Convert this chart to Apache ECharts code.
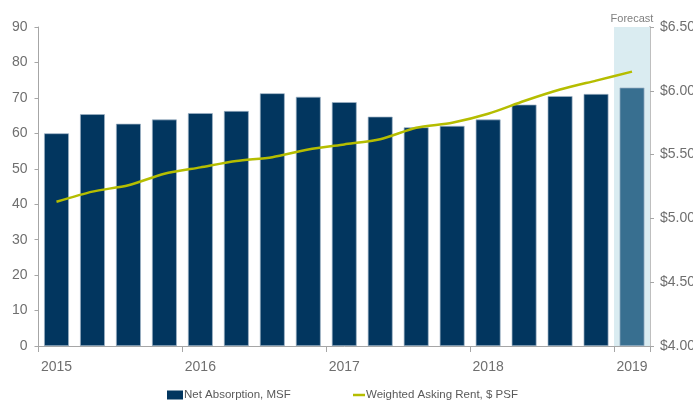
<!DOCTYPE html>
<html>
<head>
<meta charset="utf-8">
<script src="https://cdn.jsdelivr.net/npm/echarts@6/dist/echarts.min.js"></script>
<style>html,body{margin:0;padding:0;background:#fff}#c{width:693px;height:402px}</style>
</head>
<body>
<div id="c"></div>
<script>
const categories = ['2015 Q1','2015 Q2','2015 Q3','2015 Q4','2016 Q1','2016 Q2','2016 Q3','2016 Q4','2017 Q1','2017 Q2','2017 Q3','2017 Q4','2018 Q1','2018 Q2','2018 Q3','2018 Q4','2019 Q1'];
const netAbsorption = [60.0, 65.4, 62.7, 63.9, 65.7, 66.3, 71.3, 70.3, 68.8, 64.7, 61.7, 62.1, 63.9, 68.1, 70.5, 71.1, 72.9];
const askingRent = [5.13, 5.21, 5.26, 5.35, 5.40, 5.45, 5.48, 5.54, 5.58, 5.62, 5.71, 5.75, 5.82, 5.92, 6.01, 6.08, 6.15];
const forecastIndex = 16;
const forecastLabel = 'Forecast';
const seriesNames = ['Net Absorption, MSF', 'Weighted Asking Rent, $ PSF'];

const FONT = "'Liberation Sans', Arial, sans-serif";
const axisGrey = '#a6a6a6';
const labelGrey = '#6f6f6f';

// shading band: a full-height bar only at the forecast category
const forecastBand = categories.map((c, i) => i === forecastIndex ? 90 : '-');

const chart = echarts.init(document.getElementById('c'), null, {renderer: 'canvas'});
chart.setOption({
  animation: false,
  textStyle: {fontFamily: FONT},
  grid: {left: 38.5, right: 43, top: 27, bottom: 56, containLabel: false, outerBoundsMode: 'none'},
  legend: [
    {
      data: [{name: seriesNames[0], icon: 'rect', itemStyle: {borderWidth: 0}}],
      left: 167, top: 389, padding: 0,
      itemWidth: 16, itemHeight: 9, itemGap: 2,
      textStyle: {color: '#595959', fontSize: 11.5, fontFamily: FONT, padding: [0,0,0,-4]}
    },
    {
      data: [{name: seriesNames[1], icon: 'rect'}],
      left: 353, top: 389, padding: 0,
      itemWidth: 12, itemHeight: 2.5,
      textStyle: {color: '#595959', fontSize: 11.5, fontFamily: FONT, padding: [0,0,0,-4]}
    }
  ],
  xAxis: [
    {
      type: 'category',
      data: categories,
      boundaryGap: true,
      axisLine: {lineStyle: {color: axisGrey, width: 1}},
      axisTick: {show: true, interval: 3, length: 6, lineStyle: {color: axisGrey}},
      axisLabel: {interval: 3, color: labelGrey, fontSize: 14, fontFamily: FONT, margin: 14,
        formatter: v => v.slice(0, 4)}
    },
    {
      type: 'category',
      data: categories,
      boundaryGap: true,
      show: false
    }
  ],
  yAxis: [
    {
      type: 'value', min: 0, max: 90, interval: 10,
      axisLine: {show: true, lineStyle: {color: axisGrey}},
      axisTick: {show: true, length: 4, lineStyle: {color: axisGrey}},
      axisLabel: {color: labelGrey, fontSize: 14, fontFamily: FONT, margin: 11},
      splitLine: {show: false}
    },
    {
      type: 'value', min: 4, max: 6.5, interval: 0.5, position: 'right',
      axisLine: {show: true, lineStyle: {color: '#bfbfbf', width: 2}},
      axisTick: {show: true, length: 4, lineStyle: {color: axisGrey}},
      axisLabel: {color: labelGrey, fontSize: 14, fontFamily: FONT, margin: 10,
        formatter: v => '$' + v.toFixed(2)},
      splitLine: {show: false}
    }
  ],
  series: [
    {
      name: 'forecast-band',
      type: 'bar',
      xAxisIndex: 1,
      yAxisIndex: 0,
      barWidth: '100%',
      data: forecastBand,
      silent: true,
      itemStyle: {color: '#daecf1'},
      label: {show: true, position: 'top', formatter: forecastLabel, color: '#7f7f7f', fontSize: 11, fontFamily: FONT, distance: 3},
      z: 1
    },
    {
      name: seriesNames[0],
      type: 'bar',
      xAxisIndex: 0,
      yAxisIndex: 0,
      barWidth: '69%',
      data: netAbsorption.map((v, i) => i === forecastIndex
        ? {value: v, itemStyle: {color: '#386f90'}}
        : v),
      itemStyle: {color: '#02365f', borderColor: '#9fb3c6', borderWidth: 0.7},
      z: 2
    },
    {
      name: seriesNames[1],
      type: 'line',
      yAxisIndex: 1,
      data: askingRent,
      smooth: 0.25,
      symbol: 'none',
      lineStyle: {color: '#b5bd00', width: 2.5},
      itemStyle: {color: '#b5bd00'},
      z: 3
    }
  ]
});
</script>
</body>
</html>
